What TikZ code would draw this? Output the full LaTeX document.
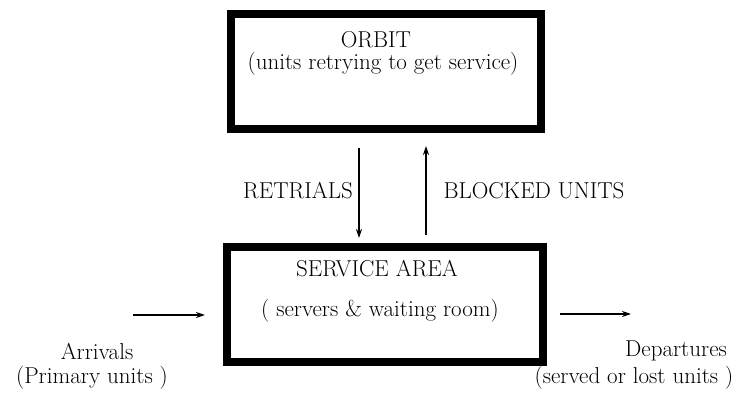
\documentclass[tikz,border=0pt]{standalone}
\usepackage{tikz}
\usetikzlibrary{arrows.meta}

\tikzset{
  box/.style={draw,line width=8pt,rectangle,inner sep=0pt},
  lbl/.style={font=\fontsize{23}{27}\selectfont,inner sep=0pt},
  flow/.style={line width=1.4pt,-{Stealth[length=9pt,width=6pt]}}
}

\begin{document}
\begin{tikzpicture}[x=1pt,y=-1pt]
\useasboundingbox (0,0) rectangle (745,393);
%% the two boxes
\node[box,minimum width=310pt,minimum height=115pt] (orbit) at (386,71.5) {};
\node[box,minimum width=316pt,minimum height=115pt] (service) at (385,304.5) {};
%%
\node[lbl] (orbitname) at (376,40) {ORBIT};
\node[lbl] (orbittext) at (383,64) {(units retrying to get service)};
\node[lbl] (servicename) at (377,269) {SERVICE AREA};
\node[lbl] (servicetext) at (380,311) {( servers \& waiting room)};
%% between the boxes
\draw[flow,shorten <=15pt,shorten >=5pt] ([xshift=-27pt]orbit.south) -- ([xshift=-26pt]service.north);
\draw[flow,shorten <=8pt,shorten >=13pt] ([xshift=41pt]service.north) -- ([xshift=40pt]orbit.south);
\node[lbl] (retrials) at (298,191) {RETRIALS};
\node[lbl] (blocked) at (534,191) {BLOCKED UNITS};
%% in and out
\coordinate (in) at (133,315);
\coordinate (out) at (631,314);
\draw[flow,shorten >=18pt] (in) -- (in -| service.west);
\draw[flow,shorten <=13pt] (out -| service.east) -- (out);
\node[lbl] (arrivals) at (97,351) {Arrivals};
\node[lbl] (primary) at (92,378) {(Primary units )};
\node[lbl] (departures) at (676,351) {Departures};
\node[lbl] (served) at (634,378) {(served or lost units )};
\end{tikzpicture}
\end{document}
